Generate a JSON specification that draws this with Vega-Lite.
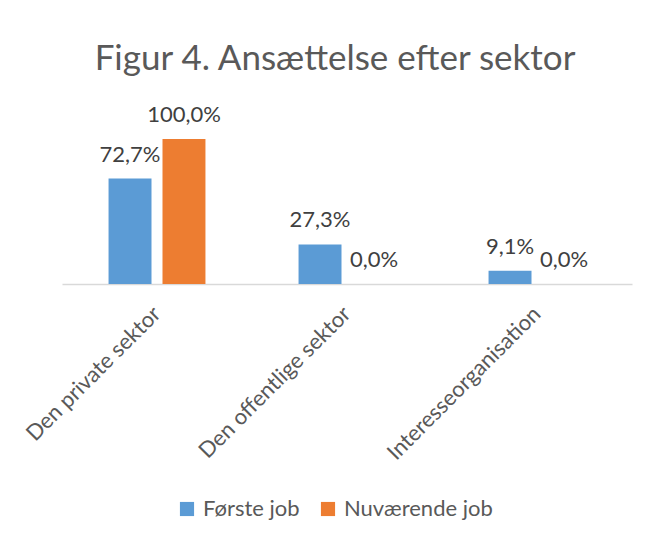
{
  "$schema": "https://vega.github.io/schema/vega-lite/v6.json",
  "width": 570,
  "height": 174,
  "autosize": {"type": "none"},
  "padding": {"left": 62, "top": 110, "right": 23, "bottom": 257},
  "background": "white",
  "title": {
    "text": "Figur 4. Ansættelse efter sektor",
    "font": "Lato",
    "fontSize": 35,
    "fontWeight": "normal",
    "color": "#595959",
    "anchor": "middle",
    "dx": -12,
    "offset": 27
  },
  "data": {
    "values": [
      {"sektor": "Den private sektor", "serie": "Første job", "andel": 0.727},
      {"sektor": "Den private sektor", "serie": "Nuværende job", "andel": 1.0},
      {"sektor": "Den offentlige sektor", "serie": "Første job", "andel": 0.273},
      {"sektor": "Den offentlige sektor", "serie": "Nuværende job", "andel": 0.0},
      {"sektor": "Interesseorganisation", "serie": "Første job", "andel": 0.091},
      {"sektor": "Interesseorganisation", "serie": "Nuværende job", "andel": 0.0}
    ]
  },
  "encoding": {
    "x": {
      "field": "sektor",
      "type": "nominal",
      "sort": null,
      "scale": {"paddingInner": 0.49, "paddingOuter": 0.245},
      "axis": {
        "title": null,
        "labelAngle": -45,
        "labelAlign": "right",
        "labelBaseline": "middle",
        "labelPadding": 26,
        "labelLimit": 500,
        "labelFont": "Lato",
        "labelFontSize": 22,
        "labelColor": "#595959",
        "ticks": false,
        "grid": false,
        "domainColor": "#d9d9d9",
        "domainWidth": 1.5
      }
    },
    "xOffset": {
      "field": "serie",
      "type": "nominal",
      "sort": ["Første job", "Nuværende job"],
      "scale": {"paddingInner": 0.204, "paddingOuter": 0}
    },
    "y": {
      "field": "andel",
      "type": "quantitative",
      "scale": {"domain": [0, 1.2]},
      "axis": null
    }
  },
  "layer": [
    {
      "mark": {"type": "bar"},
      "encoding": {
        "color": {
          "field": "serie",
          "type": "nominal",
          "sort": ["Første job", "Nuværende job"],
          "scale": {"domain": ["Første job", "Nuværende job"], "range": ["#5B9BD5", "#ED7D31"]},
          "legend": {
            "orient": "none",
            "legendX": 114,
            "legendY": 388,
            "direction": "horizontal",
            "title": null,
            "symbolType": "square",
            "symbolSize": 200,
            "symbolStrokeWidth": 0,
            "labelFont": "Lato",
            "labelFontSize": 22,
            "labelColor": "#595959",
            "labelOffset": 5,
            "columnPadding": 17
          }
        }
      }
    },
    {
      "mark": {
        "type": "text",
        "baseline": "alphabetic",
        "dy": -17,
        "font": "Lato",
        "fontSize": 22,
        "color": "#404040"
      },
      "encoding": {
        "text": {"field": "andel", "type": "quantitative", "format": ".1%"}
      }
    }
  ],
  "config": {
    "view": {"stroke": null},
    "locale": {
      "number": {"decimal": ",", "thousands": ".", "grouping": [3], "currency": ["", " kr."]}
    }
  }
}
